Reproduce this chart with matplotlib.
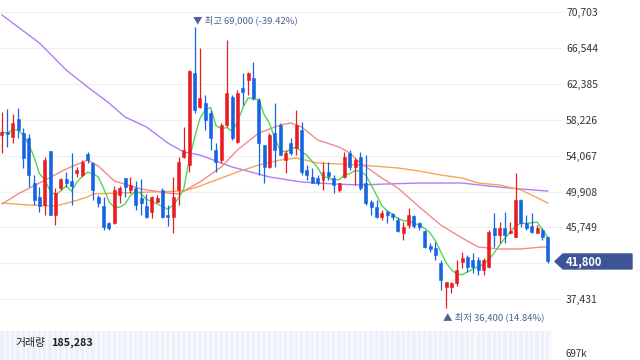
import pandas as pd
import matplotlib
matplotlib.use('Agg')
import matplotlib.pyplot as plt
from matplotlib.patches import Polygon
from matplotlib.transforms import blended_transform_factory

plt.rcParams['font.family'] = ['Noto Sans CJK KR', 'DejaVu Sans']

# daily candles, won
opens = [56450, 56800, 56250, 58350, 56700, 56100, 50900, 49300, 48350, 54600,
         47200, 50300, 51350, 51150, 52050, 51850, 54250, 53200, 49300, 48250,
         46250, 46250, 49500, 51500, 50100, 50300, 49150, 48250, 47550, 48700,
         50100, 47200, 46950, 50100, 53900, 53000, 63650, 59700, 60200, 59000,
         54750, 53550, 57650, 60900, 55650, 61900, 62850, 63100, 60550, 55300,
         52750, 56700, 57650, 53550, 55550, 54950, 57050, 52400, 51600, 51500,
         51250, 52200, 51500, 50100, 51600, 54400, 52750, 53900, 50900, 48700,
         48100, 46950, 47550, 47300, 46600, 45100, 46050, 47050, 46250, 45350,
         43600, 43350, 41600, 38850, 38850, 39300, 41750, 42300, 41950, 41950,
         40800, 41150, 45700, 44850, 45700, 45100, 44650, 48950, 46250, 45900,
         45100, 45450, 44650]
highs = [59150, 59500, 58900, 59600, 57300, 56600, 51850, 50450, 53900, 54600,
         50300, 51500, 52200, 54400, 52750, 53550, 54500, 53350, 49500, 49300,
         46400, 50550, 50550, 51500, 51600, 51150, 51350, 49650, 49400, 49500,
         50300, 48350, 51600, 53900, 57400, 64000, 69000, 66550, 61100, 59350,
         55550, 57850, 67500, 61100, 61700, 63650, 63800, 64950, 60750, 55300,
         56700, 60200, 57850, 54750, 56100, 59350, 57950, 53000, 52650, 51850,
         53350, 53350, 51850, 50900, 54500, 54750, 53800, 54500, 54150, 48950,
         48950, 47750, 47750, 47400, 46950, 46400, 48000, 47200, 46400, 45450,
         43950, 44050, 41950, 39400, 39400, 41950, 42900, 42550, 42800, 42300,
         42200, 45450, 47400, 46400, 47550, 46400, 52050, 49050, 47200, 47400,
         46050, 45700, 44650]
lows = [54400, 55100, 55550, 56100, 52650, 50450, 48350, 47550, 47200, 47150,
        46050, 50100, 50450, 48350, 51600, 51600, 53200, 48950, 48100, 45450,
        45450, 46200, 48600, 49300, 49750, 47750, 47200, 46850, 46850, 48600,
        46850, 45900, 45100, 48350, 53800, 52200, 59000, 59600, 57050, 54750,
        52200, 53200, 57400, 55900, 55550, 59950, 61100, 60550, 51850, 50900,
        52700, 52750, 54100, 52050, 54150, 54150, 51850, 51250, 50850, 50650,
        50100, 51250, 49750, 49850, 51500, 52400, 50650, 50100, 48350, 47200,
        46850, 46600, 46250, 46600, 45200, 44300, 45700, 45700, 45450, 43400,
        42900, 41950, 38500, 36400, 38150, 38950, 41050, 40600, 40450, 40250,
        40250, 41100, 43500, 43950, 43950, 45050, 44600, 45800, 45450, 45100,
        45050, 44300, 41600]
closes = [56800, 56600, 57850, 57050, 53800, 51850, 48950, 48250, 53550, 47200,
          49750, 51350, 50900, 50550, 52400, 53350, 53550, 50100, 48600, 45800,
          45700, 50100, 50300, 50450, 50650, 48350, 48600, 46950, 49300, 49150,
          46950, 46950, 49300, 53350, 54750, 63900, 59350, 60750, 58200, 56100,
          53350, 57650, 61350, 56100, 61350, 61450, 63650, 60750, 55550, 52750,
          56450, 54750, 54150, 54400, 54400, 57650, 52200, 51850, 50900, 50900,
          52200, 51700, 50650, 50900, 53900, 52750, 53550, 50300, 48600, 48100,
          46950, 47400, 47200, 46950, 45350, 45800, 47200, 45900, 45800, 43500,
          43250, 42550, 39650, 39400, 39300, 40800, 42200, 41150, 41150, 40800,
          41950, 45200, 44850, 45700, 44850, 45350, 48950, 46250, 45700, 45200,
          45700, 44650, 41800]

# longer moving averages (candle index, won)
ma20_idx = [0, 3, 7, 12, 16, 18, 21, 26, 31, 33, 37, 41, 44, 48, 52, 54, 56, 59,
            63, 65, 67, 71, 74, 78, 82, 86, 89, 93, 97, 101, 102]
ma20_val = [48470, 49630, 50900, 52530, 53570, 52870, 51130, 50210, 49740, 49630,
            51020, 52760, 54730, 56700, 57630, 57860, 57400, 55890, 55080, 54380,
            53220, 51480, 50320, 48120, 46030, 44520, 43480, 43250, 43250, 43480,
            43480]
ma60_idx = [0, 5, 10, 13, 16, 17, 22, 28, 34, 37, 41, 44, 48, 52, 55, 59, 67, 74,
            78, 82, 86, 89, 93, 97, 99, 102]
ma60_val = [48580, 48350, 48230, 48700, 49280, 49630, 49740, 49860, 49970, 50550,
            51480, 52180, 52990, 53570, 53800, 53220, 52990, 52640, 52290, 51830,
            51480, 50900, 50670, 50090, 49510, 48580]
ma120_idx = [0, 7, 12, 16, 20, 23, 27, 31, 34, 37, 43, 50, 56, 62, 67, 72, 78, 86,
             91, 97, 102]
ma120_val = [70390, 67140, 64010, 62040, 60180, 58560, 57400, 55540, 54500, 54150,
             52760, 51600, 51020, 50790, 50670, 50790, 50900, 50900, 50550, 50200,
             49970]

price_ticks = [70703, 66544, 62385, 58226, 54067, 49908, 45749, 41590, 37431]
tick_labels = ['70,703', '66,544', '62,385', '58,226', '54,067', '49,908',
               '45,749', '', '37,431']
high_text = '▼ 최고 69,000 (-39.42%)'
low_text = '▲ 최저 36,400 (14.84%)'
volume_text = '185,283'
volume_top = '697k'

RED = '#e91c23'
BLUE = '#1464e4'
TAG = '#3d5594'
NOTE = '#4f6196'

df = pd.DataFrame({'open': opens, 'high': highs, 'low': lows, 'close': closes})
df['ma5'] = df.close.rolling(5, min_periods=1).mean()
df['color'] = [RED if c >= o else BLUE for o, c in zip(df.open, df.close)]
n = len(df)

fig = plt.figure(figsize=(6.4, 3.6), dpi=100)
ax = fig.add_axes([0, 1 - 325 / 360, 562 / 640, 325 / 360])
ax.set_xlim(-0.37, 104.67)
ax.set_ylim(34430, 72130)
for s in ax.spines.values():
    s.set_visible(False)

for t in price_ticks:
    ax.axhline(t, color='#eef0f5', lw=0.9, zorder=0)
ax.yaxis.tick_right()
ax.set_yticks(price_ticks)
ax.set_yticklabels(tick_labels)
ax.tick_params(axis='y', length=0, pad=3, labelsize=7.5, labelcolor='#333333')
ax.set_xticks([])

ax.plot(ma120_idx, ma120_val, color='#b07ef5', lw=1, zorder=2)
ax.plot(ma60_idx, ma60_val, color='#f7a657', lw=1, zorder=2)
ax.plot(ma20_idx, ma20_val, color='#f38b8b', lw=1, zorder=2)
ax.plot(df.index, df.ma5, color='#55d455', lw=1, zorder=2)

ax.vlines(df.index, df.low, df.high, colors=df.color, lw=0.9, zorder=3)
body_lo = df[['open', 'close']].min(axis=1)
body_h = (df.open - df.close).abs()
ax.bar(df.index, body_h, bottom=body_lo, width=0.56, color=df.color,
       edgecolor=df.color, lw=0.4, zorder=4)

# high / low notes
imax = df.high.idxmax()
imin = df.low.idxmin()
ax.text(imax - 0.35, 69810, high_text, fontsize=6.8, color=NOTE,
        ha='left', va='center', zorder=5)
ax.text(imin - 0.6, 35360, low_text, fontsize=6.8, color=NOTE,
        ha='left', va='center', zorder=5)

# last price tag
last = closes[-1]
tr = blended_transform_factory(fig.transFigure, ax.transData)
hh = 870
tag = Polygon([(555 / 640, last), (563 / 640, last + hh), (632 / 640, last + hh),
               (632 / 640, last - hh), (563 / 640, last - hh)],
              closed=True, transform=tr, facecolor=TAG, edgecolor=TAG,
              clip_on=False, zorder=6)
fig.patches.append(tag)
fig.text(566 / 640, last, f'{last:,}', color='white', fontsize=8, weight='bold',
         va='center', transform=tr, zorder=7)

# volume strip
fig.patches.append(plt.Rectangle((0, 0), 552 / 640, 29 / 360,
                                 transform=fig.transFigure,
                                 facecolor='#f8f9fd', zorder=-1))
vax = fig.add_axes([0, 0, 562 / 640, 29 / 360])
vax.set_xlim(-0.37, 104.67)
vax.set_ylim(0, 1)
vax.bar(range(n), [1] * n, width=0.62, color='#edf0f9', lw=0)
vax.axis('off')

fig.text(15 / 640, 1 - 343 / 360, '거래량', fontsize=7.8, color='#222222',
         va='center')
fig.text(51 / 640, 1 - 343 / 360, volume_text, fontsize=7.8, color='#222222',
         weight='bold', va='center')
fig.text(566 / 640, 0.002, volume_top, fontsize=7, color='#333333',
         va='bottom')

fig.savefig('out.png', dpi=100)
